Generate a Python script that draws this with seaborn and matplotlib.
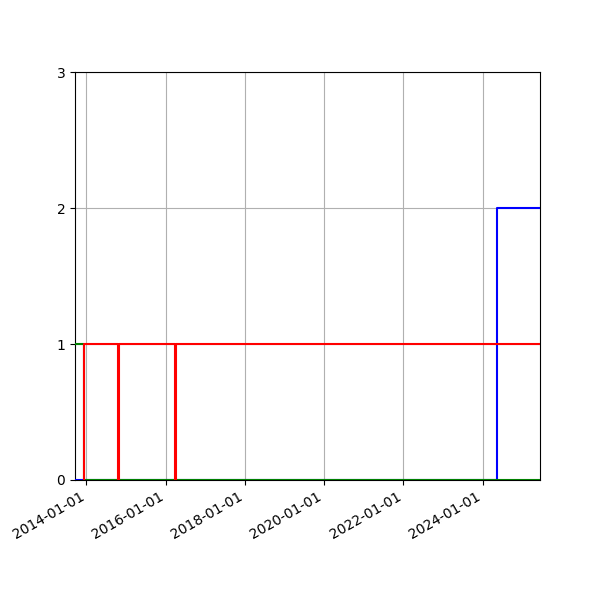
import matplotlib
matplotlib.use("Agg")
import matplotlib.pyplot as plt
import matplotlib.dates as mdates
import pandas as pd
import seaborn as sns

start = "2013-09-17"
end = "2025-06-14"

green_dates = [start, "2013-12-08", end]
green_values = [1, 0, 0]

red_dates = ["2013-12-07", "2013-12-09", "2014-10-20", "2014-10-31", "2016-03-25", "2016-04-05", end]
red_values = [0, 1, 0, 1, 0, 1, 1]

blue_dates = [start, "2024-05-17", end]
blue_values = [0, 2, 2]

frames = []
for name, d, v in [("blue", blue_dates, blue_values),
                   ("green", green_dates, green_values),
                   ("red", red_dates, red_values)]:
    frames.append(pd.DataFrame({"date": pd.to_datetime(d), "value": v, "series": name}))
df = pd.concat(frames, ignore_index=True)

fig, ax = plt.subplots(figsize=(6, 6), dpi=100)
sns.lineplot(data=df, x="date", y="value", hue="series",
             palette={"blue": "blue", "green": "green", "red": "red"},
             hue_order=["blue", "green", "red"],
             drawstyle="steps-post", estimator=None, legend=False,
             linewidth=1.5, ax=ax, zorder=3)
ax.set_xlim(pd.Timestamp(start), pd.Timestamp(end))
ax.set_ylim(0, 3)
ax.set_yticks([0, 1, 2, 3])
ax.xaxis.set_major_locator(mdates.YearLocator(2))
ax.xaxis.set_major_formatter(mdates.DateFormatter("%Y-%m-%d"))
ax.grid(True)
ax.set_xlabel("")
ax.set_ylabel("")
fig.autofmt_xdate()
fig.savefig("out.png", dpi=100)
